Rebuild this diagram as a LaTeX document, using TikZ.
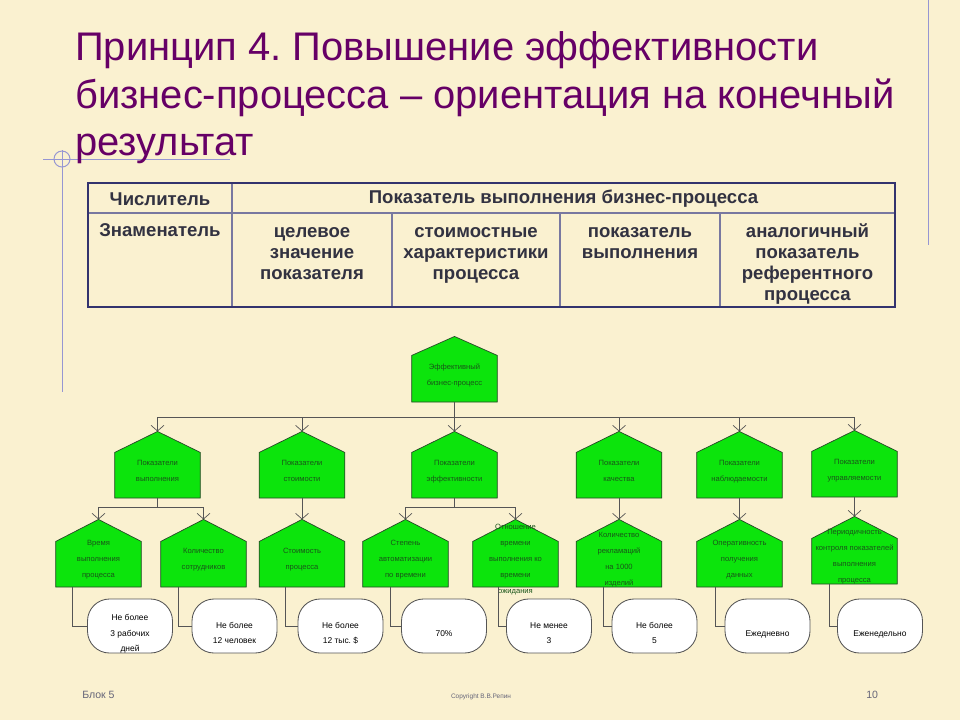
\documentclass[tikz,border=0pt]{standalone}
\usepackage{fontspec}
\setmainfont{Liberation Sans}
\usetikzlibrary{arrows.meta}
\definecolor{paper}{RGB}{250,241,208}
\definecolor{plum}{RGB}{102,0,102}
\definecolor{inkblue}{RGB}{51,51,110}
\definecolor{gridblue}{RGB}{120,120,160}
\definecolor{tabletext}{RGB}{50,50,65}
\definecolor{decor}{RGB}{150,150,210}
\definecolor{leaf}{RGB}{12,228,12}
\definecolor{leafline}{RGB}{40,70,40}
\definecolor{leaftext}{RGB}{25,85,25}
\definecolor{wire}{RGB}{85,85,85}
\definecolor{footgray}{RGB}{100,100,120}
\pgfdeclarelayer{paperlayer}
\pgfdeclarelayer{shapes}
\pgfsetlayers{paperlayer,shapes,main}
\frenchspacing
% text block of zero size, so the shapes keep their own size
\newcommand{\hl}[1]{\raisebox{-1.8mm}[0pt][0pt]{\makebox[0pt]{\begin{tabular}{@{}c@{}}#1\end{tabular}}}}
\newcommand{\gl}[1]{\raisebox{-2.3mm}[0pt][0pt]{\makebox[0pt]{\begin{tabular}{@{}c@{}}#1\end{tabular}}}}
% table cell lines, hung from the first baseline
\newcommand{\cl}[1]{\begin{tabular}[t]{@{}c@{}}#1\end{tabular}}
\tikzset{
  house/.style={rectangle, minimum width=21.25mm, minimum height=16.5mm, inner sep=0pt, anchor=south,
    font=\fontsize{5.4pt}{11.4pt}\selectfont, text=leaftext},
  roof/.style={draw=leafline, fill=leaf, line width=0.5pt, line join=miter},
  goal/.style={rectangle, rounded corners=5.5mm, draw=wire, fill=white, line width=0.6pt,
    minimum width=21.25mm, minimum height=13.5mm, inner sep=0pt,
    font=\fontsize{6pt}{11pt}\selectfont},
  link/.style={draw=wire, line width=0.5pt},
  feed/.style={link, -{Straight Barb[length=1.4mm,width=3.2mm]}},
  cell/.style={font=\fontsize{13.2pt}{15pt}\selectfont\bfseries, text=tabletext, inner sep=0pt},
  headline/.style={font=\fontsize{28.4pt}{34pt}\selectfont, text=plum, inner sep=0pt, anchor=base west},
  foot/.style={text=footgray, inner sep=0pt, anchor=base west},
}
\begin{document}
\begin{tikzpicture}[x=0.25mm, y=-0.25mm]
  \begin{pgfonlayer}{paperlayer}
    \fill[paper] (0,0) rectangle (960,720);
  \end{pgfonlayer}
  \useasboundingbox (0,0) rectangle (960,720);

  % decoration
  \draw[decor, line width=0.7pt] (43,159) -- (230,159);
  \draw[decor, line width=0.7pt] (62,150) -- (62,392);
  \draw[decor, line width=0.7pt] (62,159) circle (2mm);
  \draw[decor, line width=0.7pt] (928,0) -- (928,245);

  % title
  \node[headline] (title1) at (75,60) {Принцип 4. Повышение эффективности};
  \node[headline] (title2) at (75,108) {бизнес-процесса – ориентация на конечный};
  \node[headline] (title3) at (75,155) {результат};

  % table
  \draw[gridblue, line width=1pt] (88,213) -- (895,213);
  \draw[gridblue, line width=1pt] (232,183) -- (232,307);
  \draw[gridblue, line width=1pt] (392,213) -- (392,307);
  \draw[gridblue, line width=1pt] (560,213) -- (560,307);
  \draw[gridblue, line width=1pt] (720,213) -- (720,307);
  \draw[inkblue, line width=2pt] (88,183) rectangle (895,307);
  \node[cell] (num) at (160,199) {Числитель};
  \node[cell] (numval) at (563.5,199) {Показатель выполнения бизнес-процесса};
  \node[cell, anchor=base] (den) at (160,236) {\cl{Знаменатель}};
  \node[cell, anchor=base] (den1) at (312,237) {\cl{целевое\\значение\\показателя}};
  \node[cell, anchor=base] (den2) at (476,237) {\cl{стоимостные\\характеристики\\процесса}};
  \node[cell, anchor=base] (den3) at (640,237) {\cl{показатель\\выполнения}};
  \node[cell, anchor=base] (den4) at (807.5,237) {\cl{аналогичный\\показатель\\референтного\\процесса}};

  % tree
  \node[house, minimum height=16.25mm] (root) at (454.5,402) {\hl{Эффективный\\бизнес-процесс}};

  \node[house] (c1) at (157.5,498) {\hl{Показатели\\выполнения}};
  \node[house] (c2) at (302,498) {\hl{Показатели\\стоимости}};
  \node[house] (c3) at (454.5,498) {\hl{Показатели\\эффективности}};
  \node[house] (c4) at (619,498) {\hl{Показатели\\качества}};
  \node[house] (c5) at (739.5,498) {\hl{Показатели\\наблюдаемости}};
  \node[house] (c6) at (854.5,497) {\hl{Показатели\\управляемости}};

  \node[house, minimum height=16.75mm] (g1) at (98.5,587) {\hl{Время\\выполнения\\процесса}};
  \node[house, minimum height=16.75mm] (g2) at (203.5,587) {\hl{Количество\\сотрудников}};
  \node[house, minimum height=16.75mm] (g3) at (302,587) {\hl{Стоимость\\процесса}};
  \node[house, minimum height=16.75mm] (g4) at (405.5,587) {\hl{Степень\\автоматизации\\по времени}};
  \node[house, minimum height=16.75mm] (g5) at (515.5,587) {\hl{Отношение\\времени\\выполнения ко\\времени\\ожидания}};
  \node[house, minimum height=16.75mm] (g6) at (619,587) {\hl{Количество\\рекламаций\\на 1000\\изделий}};
  \node[house, minimum height=16.75mm] (g7) at (739.5,587) {\hl{Оперативность\\получения\\данных}};
  \node[house, minimum height=16.75mm] (g8) at (854.5,584) {\hl{Периодичность\\контроля показателей\\выполнения\\процесса}};

  % house outlines, behind the texts
  \begin{pgfonlayer}{shapes}
    \foreach \n/\r in {root/19, c1/21, c2/21, c3/21, c4/21, c5/21, c6/21,
                       g1/22, g2/22, g3/22, g4/22, g5/22, g6/22, g7/22, g8/22}
      \filldraw[roof] (\n.south west) -- ([yshift=-\r*0.25mm]\n.north west) -- (\n.north)
        -- ([yshift=-\r*0.25mm]\n.north east) -- (\n.south east) -- cycle;
  \end{pgfonlayer}

  \node[goal] (o1) at (130,626) {\gl{Не более\\3 рабочих\\дней}};
  \node[goal] (o2) at (234.5,626) {\gl{Не более\\12 человек}};
  \node[goal] (o3) at (340.5,626) {\gl{Не более\\12 тыс. \$}};
  \node[goal] (o4) at (444,626) {\gl{70\%}};
  \node[goal] (o5) at (549,626) {\gl{Не менее\\3}};
  \node[goal] (o6) at (654.5,626) {\gl{Не более\\5}};
  \node[goal] (o7) at (767.5,626) {\gl{Ежедневно}};
  \node[goal] (o8) at (880,626) {\gl{Еженедельно}};

  % connectors
  \coordinate (bus0) at (454.5,417);
  \draw[link] (root.south) -- (bus0);
  \draw[link] (c1.north |- bus0) -- (c6.north |- bus0);
  \foreach \n in {c1,c2,c3,c4,c5,c6}
    \draw[feed] (\n.north |- bus0) -- (\n.north);

  \coordinate (bus1) at (157.5,507);
  \draw[link] (c1.south) -- (bus1);
  \draw[link] (g1.north |- bus1) -- (g2.north |- bus1);
  \draw[feed] (g1.north |- bus1) -- (g1.north);
  \draw[feed] (g2.north |- bus1) -- (g2.north);
  \draw[feed] (c2.south) -- (g3.north);
  \coordinate (bus3) at (454.5,507);
  \draw[link] (c3.south) -- (bus3);
  \draw[link] (g4.north |- bus3) -- (g5.north |- bus3);
  \draw[feed] (g4.north |- bus3) -- (g4.north);
  \draw[feed] (g5.north |- bus3) -- (g5.north);
  \draw[feed] (c4.south) -- (g6.north);
  \draw[feed] (c5.south) -- (g7.north);
  \draw[feed] (c6.south) -- (g8.north);

  \foreach \g/\o/\d in {g1/o1/-26.5, g2/o2/-25.5, g3/o3/-16.5, g4/o4/-15.5,
                        g5/o5/-17.5, g6/o6/-16, g7/o7/-24.5, g8/o8/-25}
    \draw[link] ([xshift=\d*0.25mm]\g.south) |- (\o.west);

  % footer
  \node[foot, font=\fontsize{7.5pt}{9pt}\selectfont] (block) at (82,698) {Блок 5};
  \node[foot, anchor=base, font=\fontsize{4.6pt}{6pt}\selectfont] (copy) at (481,698) {Copyright В.В.Репин};
  \node[foot, font=\fontsize{7.5pt}{9pt}\selectfont] (page) at (866,698) {10};
\end{tikzpicture}
\end{document}
